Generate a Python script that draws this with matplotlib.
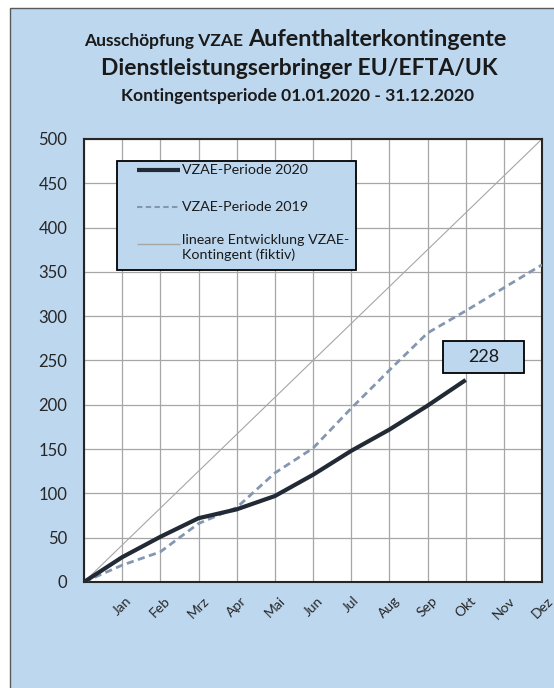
import matplotlib
matplotlib.use("Agg")
import matplotlib.pyplot as plt
from matplotlib.patches import Rectangle
from matplotlib.transforms import ScaledTranslation

plt.rcParams['font.family'] = ['Lato', 'DejaVu Sans']

months = ['', 'Jan', 'Feb', 'Mrz', 'Apr', 'Mai', 'Jun', 'Jul', 'Aug',
          'Sep', 'Okt', 'Nov', 'Dez']
vzae_2020 = [0, 28, 51, 72, 82, 97, 121, 148, 172, 199, 228]
vzae_2019 = [0, 19, 34, 66, 84, 123, 151, 196, 239, 281, 306, 332, 358]
linear = [0, 500]
last_value = '228'

label_2020 = 'VZAE-Periode 2020'
label_2019 = 'VZAE-Periode 2019'
label_lin = 'lineare Entwicklung VZAE-\nKontingent (fiktiv)'

bg = '#BDD7EE'
c2020 = '#222A35'
c2019 = '#8497B0'
clin = '#A6A6A6'
dash = (0, (2.6, 1.6))
W, H = 554, 688

fig = plt.figure(figsize=(W / 100, H / 100), dpi=100, facecolor='white')

# light blue chart area, grey border only visible top/left
fig.add_artist(Rectangle((10 / W, -0.1), 1.2, 1.1 - 8 / H, transform=fig.transFigure,
                         facecolor=bg, edgecolor='#595959', lw=1.0, zorder=0))

ax = fig.add_axes([84 / W, 1 - 582 / H, 458 / W, 443 / H])
ax.set_facecolor('white')

ax.plot([0, len(months) - 1], linear, color=clin, lw=0.8, zorder=2)
ax.plot(range(len(vzae_2019)), vzae_2019, color=c2019, lw=2.0, ls=dash, zorder=3)
ax.plot(range(len(vzae_2020)), vzae_2020, color=c2020, lw=3.0, zorder=4,
        solid_capstyle='butt')

ax.set_xlim(0, 12)
ax.set_ylim(0, 500)
ax.set_yticks(range(0, 501, 50))
ax.set_xticks(range(0, 13))
ax.set_xticklabels(months, rotation=45, ha='center', fontsize=10)
off = ScaledTranslation(-9 / 100, 0, fig.dpi_scale_trans)
for lab in ax.get_xticklabels():
    lab.set_transform(lab.get_transform() + off)
ax.tick_params(axis='both', length=0, colors='#262626')
ax.tick_params(axis='y', labelsize=12, pad=12)
ax.tick_params(axis='x', pad=9)
ax.grid(True, color='#A6A6A6', lw=0.9)
ax.set_axisbelow(True)
for s in ax.spines.values():
    s.set_color('#262626')
    s.set_linewidth(1.5)

# legend box drawn by hand (Excel style)
ax.add_patch(Rectangle((0.072, 0.704), 0.522, 0.246, transform=ax.transAxes,
                       facecolor=bg, edgecolor='black', lw=1.3, zorder=6))
rows = [(0.930, c2020, 3.0, '-', label_2020),
        (0.847, c2019, 1.5, dash, label_2019),
        (0.763, clin, 1.0, '-', label_lin)]
for yy, col, lw, ls, lab in rows:
    ax.plot([0.116, 0.210], [yy, yy], transform=ax.transAxes, color=col, lw=lw,
            ls=ls, zorder=7, clip_on=False, solid_capstyle='butt')
    va = 'center' if '\n' not in lab else 'top'
    ty = yy if '\n' not in lab else yy + 0.022
    ax.text(0.214, ty, lab, transform=ax.transAxes, va=va, ha='left',
            fontsize=10.3, color='#1a1a1a', zorder=7, linespacing=1.2)

# value box for the latest month
ax.add_patch(Rectangle((0.784, 0.472), 0.177, 0.072, transform=ax.transAxes,
                       facecolor=bg, edgecolor='black', lw=1.3, zorder=6))
ax.text(0.8725, 0.508, last_value, transform=ax.transAxes, ha='center',
        va='center', fontsize=13, color='#1a1a1a', zorder=7)

# title
fig.text(243 / W, 1 - 46 / H, 'Ausschöpfung VZAE', ha='right', va='baseline',
         fontsize=12.5, fontweight='bold', color='#1a1a1a')
fig.text(248 / W, 1 - 46 / H, 'Aufenthalterkontingente', ha='left', va='baseline',
         fontsize=16.8, fontweight='bold', color='#1a1a1a')
fig.text(299 / W, 1 - 75 / H, 'Dienstleistungserbringer EU/EFTA/UK', ha='center',
         va='baseline', fontsize=16.5, fontweight='bold', color='#1a1a1a')
fig.text(298 / W, 1 - 101 / H, 'Kontingentsperiode 01.01.2020 - 31.12.2020',
         ha='center', va='baseline', fontsize=12.6, fontweight='bold', color='#1a1a1a')

fig.savefig('out.png', dpi=100, facecolor=fig.get_facecolor())
